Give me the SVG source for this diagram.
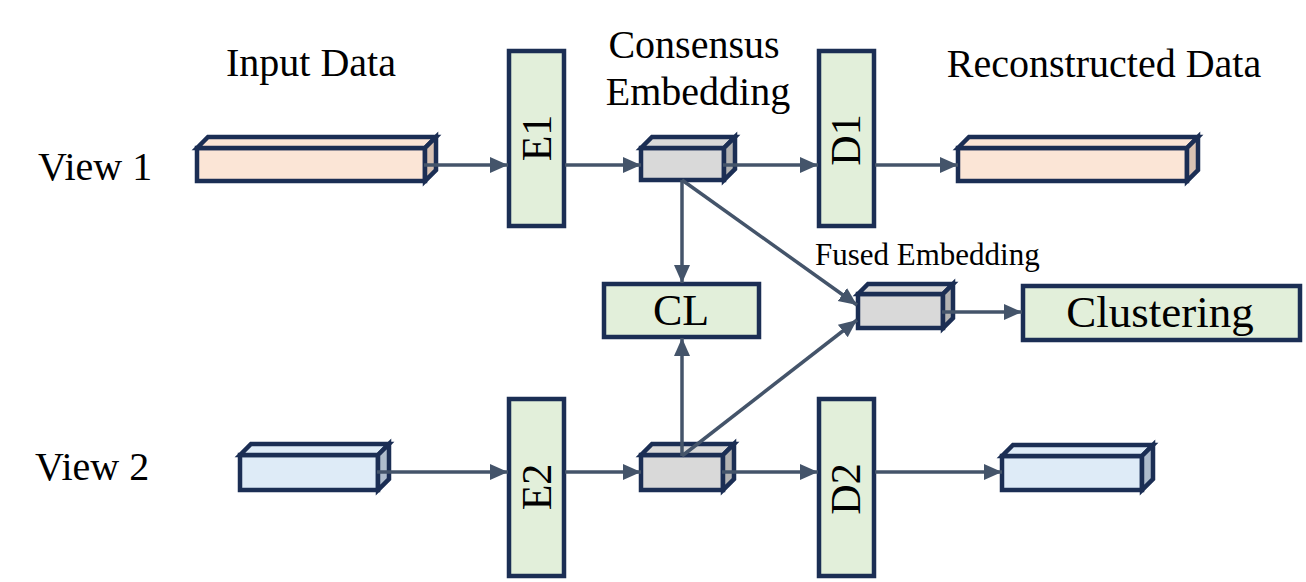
<svg xmlns="http://www.w3.org/2000/svg" width="1306" height="582" viewBox="0 0 1306 582">
<style>
.t{font-family:"Liberation Serif","Times New Roman",serif;fill:#000}
.box{stroke:#1b2e54;stroke-width:4.5;stroke-linejoin:miter}
.green{fill:#e2efda}
.peach{fill:#fbe5d6}.peachS{fill:#d8c2b3}
.blue{fill:#deebf7}.blueS{fill:#aebccc}
.gray{fill:#d9d9d9}.grayS{fill:#b3b3b3}
.c{stroke:#44546a;stroke-width:3.5;fill:none;marker-end:url(#ah)}
</style>
<defs>
<marker id="ah" markerUnits="userSpaceOnUse" markerWidth="20" markerHeight="20" viewBox="0 0 20 20" refX="18" refY="10" orient="auto">
<path d="M0,2 L18,10 L0,18 Z" fill="#44546a"/>
</marker>
</defs>
<rect width="1306" height="582" fill="#fff"/>

<g id="labels">
<text class="t" x="311" y="76" font-size="40" text-anchor="middle">Input Data</text>
<text class="t" x="694" y="58" font-size="40" text-anchor="middle">Consensus</text>
<text class="t" x="698" y="105" font-size="40" text-anchor="middle">Embedding</text>
<text class="t" x="1104" y="77" font-size="40" text-anchor="middle">Reconstructed Data</text>
<text class="t" x="38" y="180" font-size="40">View 1</text>
<text class="t" x="35" y="480" font-size="40">View 2</text>
<text class="t" x="815" y="265" font-size="31">Fused Embedding</text>
</g>

<g id="input1">
<rect class="box peach" x="197" y="148" width="228" height="33"/>
<polygon class="box peach" points="197,148 208,137 436,137 425,148"/>
<polygon class="box peachS" points="425,148 436,137 436,170 425,181"/>
</g>
<g id="input2">
<rect class="box blue" x="240" y="455" width="138" height="35"/>
<polygon class="box blue" points="240,455 251,444 389,444 378,455"/>
<polygon class="box blueS" points="378,455 389,444 389,479 378,490"/>
</g>

<g id="E1">
<rect class="box green" x="509" y="51" width="55" height="175"/>
<text class="t" font-size="42" text-anchor="middle" dominant-baseline="central" transform="translate(537,138) rotate(-90)">E1</text>
</g>
<g id="E2">
<rect class="box green" x="509" y="399" width="55" height="177"/>
<text class="t" font-size="42" text-anchor="middle" dominant-baseline="central" transform="translate(537,487) rotate(-90)">E2</text>
</g>

<g id="cons1">
<rect class="box gray" x="641" y="148" width="83" height="32"/>
<polygon class="box gray" points="641,148 652,137 735,137 724,148"/>
<polygon class="box grayS" points="724,148 735,137 735,169 724,180"/>
</g>
<g id="cons2">
<rect class="box gray" x="641" y="455" width="82" height="35"/>
<polygon class="box gray" points="641,455 652,444 734,444 723,455"/>
<polygon class="box grayS" points="723,455 734,444 734,479 723,490"/>
</g>

<g id="D1">
<rect class="box green" x="819" y="51" width="55" height="175"/>
<text class="t" font-size="42" text-anchor="middle" dominant-baseline="central" transform="translate(846,140) rotate(-90)">D1</text>
</g>
<g id="D2">
<rect class="box green" x="819" y="399" width="55" height="177"/>
<text class="t" font-size="42" text-anchor="middle" dominant-baseline="central" transform="translate(846,489) rotate(-90)">D2</text>
</g>

<g id="recon1">
<rect class="box peach" x="958" y="148" width="229" height="33"/>
<polygon class="box peach" points="958,148 969,137 1198,137 1187,148"/>
<polygon class="box peachS" points="1187,148 1198,137 1198,170 1187,181"/>
</g>
<g id="recon2">
<rect class="box blue" x="1002" y="456" width="140" height="34"/>
<polygon class="box blue" points="1002,456 1013,445 1153,445 1142,456"/>
<polygon class="box blueS" points="1142,456 1153,445 1153,479 1142,490"/>
</g>

<g id="CL">
<rect class="box green" x="604" y="284" width="155" height="53"/>
<text class="t" x="681" y="325" font-size="44" text-anchor="middle">CL</text>
</g>

<g id="fused">
<rect class="box gray" x="858" y="294" width="85" height="34"/>
<polygon class="box gray" points="858,294 868,284 953,284 943,294"/>
<polygon class="box grayS" points="943,294 953,284 953,318 943,328"/>
</g>

<g id="clustering">
<rect class="box green" x="1023" y="286" width="277" height="54"/>
<text class="t" x="1160" y="327" font-size="45" text-anchor="middle">Clustering</text>
</g>

<g id="connectors">
<line class="c" x1="424" y1="165" x2="508" y2="165"/>
<line class="c" x1="565" y1="165" x2="641" y2="165"/>
<line class="c" x1="723" y1="165" x2="818" y2="165"/>
<line class="c" x1="875" y1="165" x2="958" y2="165"/>
<line class="c" x1="377" y1="472" x2="508" y2="472"/>
<line class="c" x1="565" y1="472" x2="641" y2="472"/>
<line class="c" x1="722" y1="472" x2="818" y2="472"/>
<line class="c" x1="875" y1="472" x2="1002" y2="472"/>
<line class="c" x1="942" y1="312" x2="1022" y2="312"/>
<line class="c" x1="682" y1="180" x2="682" y2="283"/>
<line class="c" x1="682" y1="456" x2="682" y2="338"/>
<line class="c" x1="682" y1="180" x2="857" y2="305"/>
<line class="c" x1="682" y1="456" x2="857" y2="320"/>
</g>
</svg>
